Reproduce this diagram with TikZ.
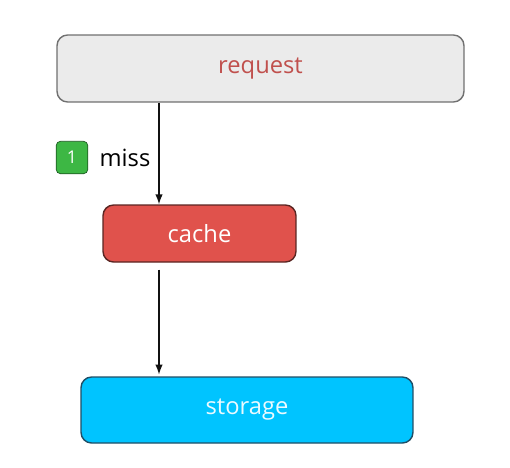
\documentclass[tikz,border=0pt]{standalone}
\usepackage{fontspec}
\setmainfont{Open Sans}
\usepackage{tikz}
\usetikzlibrary{positioning, arrows.meta}
\definecolor{reqfill}{HTML}{EBEBEB}
\definecolor{reqdraw}{HTML}{707070}
\definecolor{reqtext}{HTML}{C0504D}
\definecolor{cachefill}{HTML}{E0524C}
\definecolor{cachedraw}{HTML}{5A2522}
\definecolor{storefill}{HTML}{00C4FF}
\definecolor{storedraw}{HTML}{1F4E66}
\definecolor{badgefill}{HTML}{3DB744}
\definecolor{badgedraw}{HTML}{1E5A22}
\definecolor{ink}{HTML}{111111}
\tikzset{
  box/.style   = {rectangle, rounded corners=6pt, thick, align=center,
                  font=\fontsize{13.5}{16}\selectfont},
  badge/.style = {rectangle, rounded corners=2.5pt, draw=badgedraw, fill=badgefill,
                  minimum width=18pt, minimum height=18.5pt, inner sep=0pt,
                  font=\fontsize{10}{12}\selectfont\color{white}},
  ar/.style    = {-{Latex[length=2mm,width=1.5mm]}, thick, draw=ink},
}
\begin{document}
\begin{tikzpicture}[x=0.02cm, y=-0.02cm]
  \useasboundingbox (0,0) rectangle (510,467);

  % ----- boxes -----
  \node[box, draw=reqdraw, fill=reqfill, text=reqtext,
        minimum width=8.14cm, minimum height=1.34cm] (request) at (260.5,68.5) {request};
  \node[box, draw=cachedraw, fill=cachefill, text=white,
        minimum width=3.86cm, minimum height=1.14cm] (cache) at (199.5,233.5) {cache};
  \node[box, draw=storedraw, fill=storefill, text=white!92!storefill,
        minimum width=6.64cm, minimum height=1.32cm] (storage) at (247,410) {storage};

  % ----- connectors -----
  \coordinate (col) at (159,0);
  \draw[ar] (request.south -| col) -- (cache.north -| col);
  \draw[ar, shorten <=4pt, shorten >=1pt] (cache.south -| col) -- (storage.north -| col);

  % step label
  \node[badge] (one) at (72,157.5) {1};
  \node[font=\fontsize{13.5}{16}\selectfont, right=3pt of one] (miss) {miss};

\end{tikzpicture}
\end{document}
